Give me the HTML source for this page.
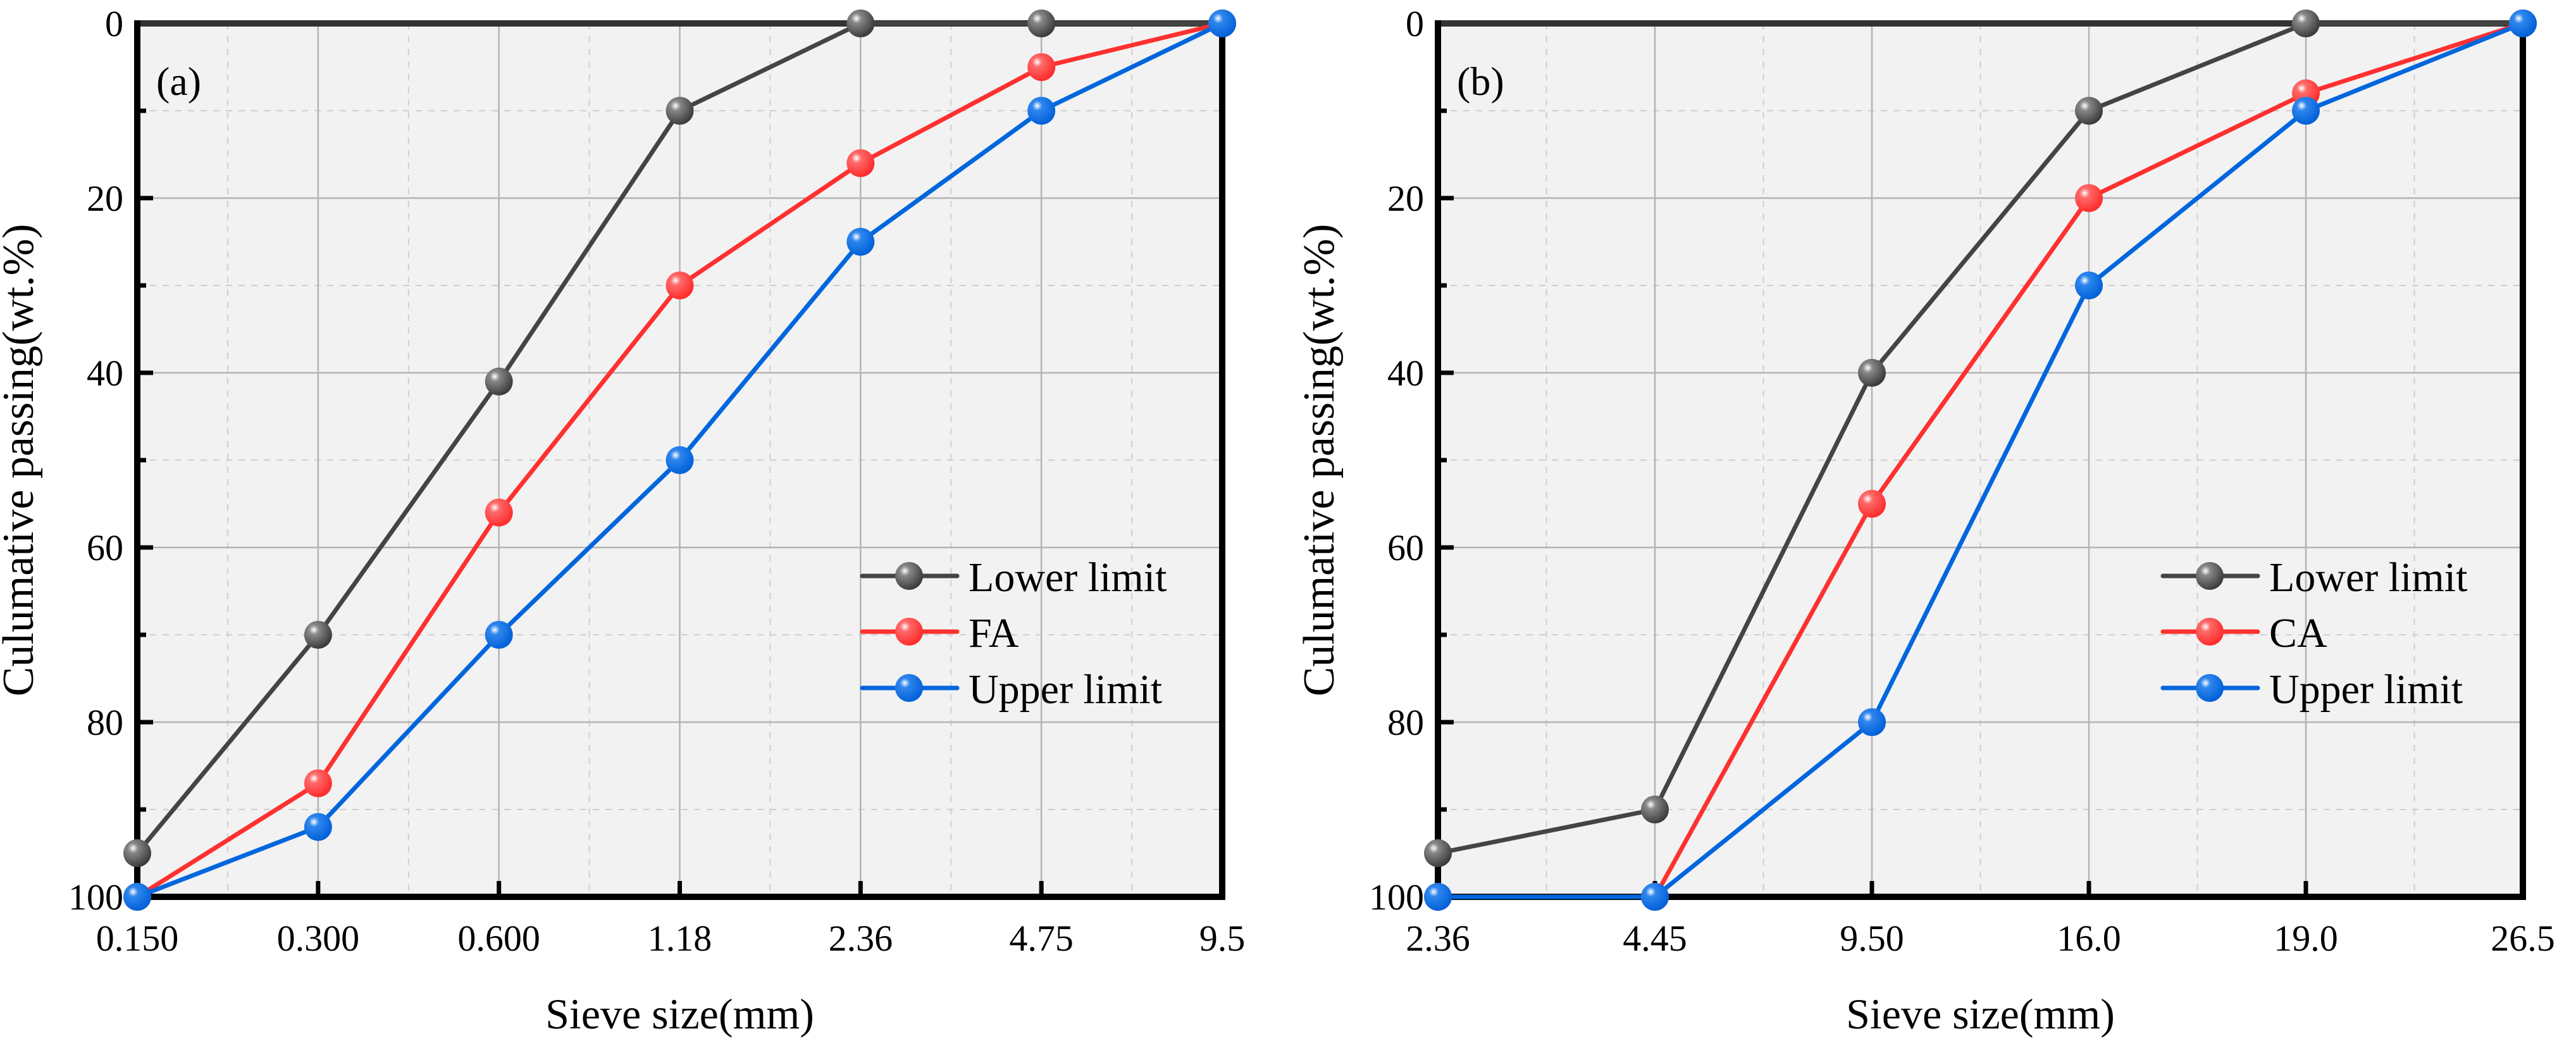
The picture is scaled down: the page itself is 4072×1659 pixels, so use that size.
<!DOCTYPE html>
<html><head><meta charset="utf-8"><style>
html,body{margin:0;padding:0;background:#fff;}
svg{display:block;}
svg text{font-family:"Liberation Serif","DejaVu Serif",serif;}
</style></head><body>
<svg id="chart" width="4072" height="1659" viewBox="0 0 4072 1659" xmlns="http://www.w3.org/2000/svg" font-family="Liberation Serif, DejaVu Serif, serif">
<defs>
<radialGradient id="gGray" cx="0.35" cy="0.32" r="0.7"><stop offset="0" stop-color="#fff"/><stop offset="0.25" stop-color="#888"/><stop offset="1" stop-color="#3a3a3a"/></radialGradient>
<radialGradient id="gRed" cx="0.35" cy="0.32" r="0.7"><stop offset="0" stop-color="#fff"/><stop offset="0.25" stop-color="#ff6a6a"/><stop offset="1" stop-color="#ff2a2a"/></radialGradient>
<radialGradient id="gBlue" cx="0.35" cy="0.32" r="0.7"><stop offset="0" stop-color="#fff"/><stop offset="0.25" stop-color="#2f86ee"/><stop offset="1" stop-color="#0060d8"/></radialGradient>
</defs>
</svg>
<script>
// Panel (a) data
const catsA = ["0.150","0.300","0.600","1.18","2.36","4.75","9.5"];
const lowerA = [95,70,41,10,0,0,0];
const faA = [100,87,56,30,16,5,0];
const upperA = [100,92,70,50,25,10,0];
// Panel (b) data
const catsB = ["2.36","4.45","9.50","16.0","19.0","26.5"];
const lowerB = [95,90,40,10,0,0];
const caB = [100,100,55,20,8,0];
const upperB = [100,100,80,30,10,0];
const yTicks = [0,20,40,60,80,100];

const NS = "http://www.w3.org/2000/svg";
const FONT = '"Liberation Serif", "DejaVu Serif", serif';
const svg = document.getElementById('chart');
function mk(tag, attrs, parent){
  const e = document.createElementNS(NS, tag);
  for (const k in attrs) e.setAttribute(k, attrs[k]);
  if (tag === 'text') e.style.fontFamily = FONT;
  (parent||svg).appendChild(e);
  return e;
}
const Y0 = 37, Y1 = 1417;

function panel(left, right, cats, series, label, tag, legendNames){
  const g = mk('g', {});
  
  
  const n = cats.length;
  const xs = i => left + (right-left) * i / (n-1);
  const ys = v => Y0 + (Y1-Y0) * v / 100;
  const bg = mk('rect', {x:left, y:Y0, width:right-left, height:Y1-Y0, fill:'#f2f2f2'}, g);
  
  
  for (let i=0;i<n-1;i++){
    const x = (xs(i)+xs(i+1))/2;
    mk('line',{x1:x,x2:x,y1:Y0,y2:Y1,stroke:'#cfcfcf','stroke-width':2,'stroke-dasharray':'10,10'},g);
  }
  for (let v=10; v<100; v+=20){
    mk('line',{x1:left,x2:right,y1:ys(v),y2:ys(v),stroke:'#cfcfcf','stroke-width':2,'stroke-dasharray':'10,10'},g);
  }
  for (let i=1;i<n-1;i++){
    mk('line',{x1:xs(i),x2:xs(i),y1:Y0,y2:Y1,stroke:'#b3b3b3','stroke-width':2.5},g);
  }
  for (const v of yTicks){ if (v>0 && v<100)
    mk('line',{x1:left,x2:right,y1:ys(v),y2:ys(v),stroke:'#b3b3b3','stroke-width':2.5},g);
  }
  mk('line',{x1:left-5,x2:right+5,y1:Y0,y2:Y0,stroke:'#333','stroke-width':10},g);
  mk('line',{x1:right,x2:right,y1:Y0,y2:Y1+5,stroke:'#000','stroke-width':10},g);
  const xAxis = mk('line',{x1:left-5,x2:right+5,y1:Y1,y2:Y1,stroke:'#000','stroke-width':10},g);
  
  
  const yAxis = mk('line',{x1:left,x2:left,y1:Y0-5,y2:Y1+5,stroke:'#000','stroke-width':10},g);
  
  
  for (let i=0;i<n;i++){
    mk('line',{x1:xs(i),x2:xs(i),y1:Y1,y2:Y1-25,stroke:'#000','stroke-width':7},g);
    const t = mk('text',{x:xs(i),y:1502,'font-size':58,'text-anchor':'middle',fill:'#000'},g);
    t.textContent = cats[i];
    
    
  }
  for (let v=10; v<100; v+=10){
    const major = v%20===0;
    mk('line',{x1:left,x2:left+(major?25:14),y1:ys(v),y2:ys(v),stroke:'#000','stroke-width':7},g);
  }
  for (const v of yTicks){
    const t = mk('text',{x:left-22,y:ys(v)+20,'font-size':58,'text-anchor':'end',fill:'#000'},g);
    t.textContent = v;
    
    
  }
  const xt = mk('text',{x:(left+right)/2,y:1625,'font-size':68,'text-anchor':'middle',fill:'#000'},g);
  xt.textContent = 'Sieve size(mm)';
  
  
  const yx = left - 165, yy = (Y0+Y1)/2;
  const yt = mk('text',{x:yx,y:yy,'font-size':70,'text-anchor':'middle',fill:'#000',transform:'rotate(-90 '+yx+' '+yy+')'},g);
  yt.textContent = 'Culumative passing(wt.%)';
  
  
  const pl = mk('text',{x:left+30,y:150,'font-size':64,fill:'#000'},g);
  pl.textContent = label;
  
  
  series.forEach(s=>{
    const sg = mk('g',{},g);
    
    
    const pts = s.vals.map((v,i)=>xs(i)+','+ys(v)).join(' ');
    mk('polyline',{points:pts,fill:'none',stroke:s.color,'stroke-width':7,'stroke-linejoin':'round'},sg);
    s.vals.forEach((v,i)=>{
      const c = mk('circle',{cx:xs(i),cy:ys(v),r:22,fill:s.grad},sg);
      
      
    });
  });
  const lg = mk('g',{},g);
  
  
  const lx = left + 1146, rows = [910,998,1087];
  series.forEach((s,k)=>{
    const eg = mk('g',{},lg);
    
    
    mk('line',{x1:lx,x2:lx+150,y1:rows[k],y2:rows[k],stroke:s.color,'stroke-width':7,'stroke-linecap':'round'},eg);
    mk('circle',{cx:lx+74,cy:rows[k],r:22,fill:s.grad},eg);
    const t = mk('text',{x:lx+168,y:rows[k]+24,'font-size':66,fill:'#000'},eg);
    t.textContent = legendNames[k];
  });
}

panel(217,1932,catsA,[
  {key:'lower-limit',vals:lowerA,color:'#444',grad:'url(#gGray)'},
  {key:'fa',vals:faA,color:'#ff3030',grad:'url(#gRed)'},
  {key:'upper-limit',vals:upperA,color:'#0066dd',grad:'url(#gBlue)'}
],'(a)','a',['Lower limit','FA','Upper limit']);

panel(2273,3988,catsB,[
  {key:'lower-limit',vals:lowerB,color:'#444',grad:'url(#gGray)'},
  {key:'ca',vals:caB,color:'#ff3030',grad:'url(#gRed)'},
  {key:'upper-limit',vals:upperB,color:'#0066dd',grad:'url(#gBlue)'}
],'(b)','b',['Lower limit','CA','Upper limit']);
</script>
</body></html>
